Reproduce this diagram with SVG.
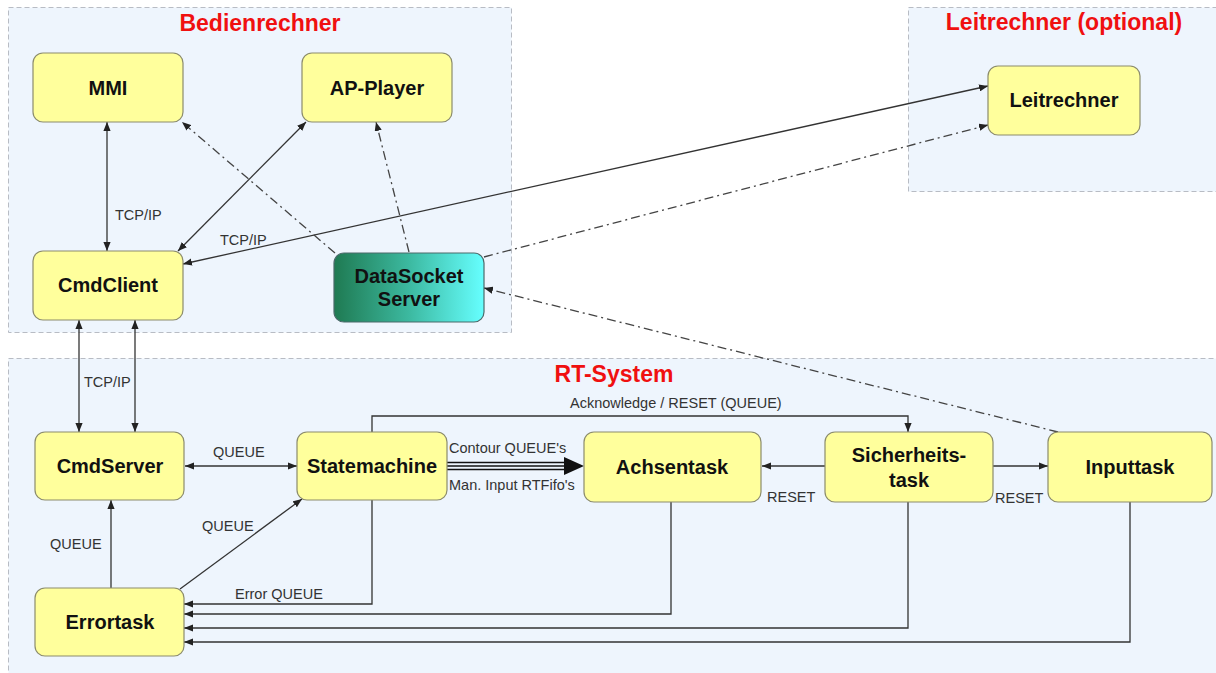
<svg xmlns="http://www.w3.org/2000/svg" width="1216" height="673" viewBox="0 0 1216 673">
<defs>
<marker id="arr" viewBox="0 0 10 8" refX="10" refY="4" markerWidth="9" markerHeight="7.5" markerUnits="userSpaceOnUse" orient="auto-start-reverse">
<path d="M0,0 L10,4 L0,8 z" fill="#222"/>
</marker>
<linearGradient id="ds" x1="0" y1="0" x2="1" y2="0">
<stop offset="0" stop-color="#1f7a52"/>
<stop offset="0.5" stop-color="#3cb9a0"/>
<stop offset="1" stop-color="#66ffff"/>
</linearGradient>
<style>
.grp{fill:#eef5fd;stroke:#b8bcc4;stroke-width:1;stroke-dasharray:5 3}
.title{font-family:"Liberation Sans",Arial,sans-serif;font-weight:bold;font-size:23px;fill:#f01010;text-anchor:middle}
.node{fill:#ffff9c;stroke:#8c8c6c;stroke-width:1.2}
.nt{font-family:"Liberation Sans",Arial,sans-serif;font-weight:bold;font-size:20px;fill:#111;text-anchor:middle}
.lbl{font-family:"Liberation Sans",Arial,sans-serif;font-size:14.5px;fill:#333}
.c{fill:none;stroke:#333;stroke-width:1.3}
.dd{fill:none;stroke:#444;stroke-width:1.3;stroke-dasharray:9 4 2 4}
</style>
</defs>
<rect width="1216" height="673" fill="#ffffff"/>
<g id="group-bedienrechner">
<rect class="grp" x="8.5" y="7.5" width="503" height="325"/>
<text class="title" x="260" y="31">Bedienrechner</text>
</g>
<g id="group-leitrechner">
<rect class="grp" x="908.5" y="7.5" width="312" height="184"/>
<text class="title" x="1064" y="30">Leitrechner (optional)</text>
</g>
<g id="group-rtsystem">
<rect class="grp" x="8.5" y="358.5" width="1212" height="320"/>
<text class="title" x="614" y="382">RT-System</text>
</g>
<g id="connectors">
<line class="c" x1="107" y1="122" x2="107" y2="251" marker-start="url(#arr)" marker-end="url(#arr)"/>
<line class="c" x1="306" y1="122" x2="178" y2="251" marker-start="url(#arr)" marker-end="url(#arr)"/>
<line class="c" x1="183" y1="264" x2="988" y2="86" marker-start="url(#arr)" marker-end="url(#arr)"/>
<line class="dd" x1="335" y1="253" x2="182" y2="122" marker-end="url(#arr)"/>
<line class="dd" x1="409" y1="252" x2="376" y2="122" marker-end="url(#arr)"/>
<line class="dd" x1="484" y1="257" x2="988" y2="125" marker-end="url(#arr)"/>
<line class="dd" x1="1058" y1="432" x2="484" y2="288" marker-end="url(#arr)"/>
<line class="c" x1="79" y1="320" x2="79" y2="432" marker-start="url(#arr)" marker-end="url(#arr)"/>
<line class="c" x1="135" y1="320" x2="135" y2="432" marker-start="url(#arr)" marker-end="url(#arr)"/>
<line class="c" x1="185" y1="466" x2="297" y2="466" marker-start="url(#arr)" marker-end="url(#arr)"/>
<line class="c" x1="111" y1="588" x2="111" y2="500" marker-end="url(#arr)"/>
<line class="c" x1="180" y1="589" x2="302" y2="499" marker-end="url(#arr)"/>
<polyline class="c" points="372,500 372,604 184,604" marker-end="url(#arr)"/>
<polyline class="c" points="671,502 671,614 184,614" marker-end="url(#arr)"/>
<polyline class="c" points="908,502 908,628 184,628" marker-end="url(#arr)"/>
<polyline class="c" points="1130,502 1130,642 184,642" marker-end="url(#arr)"/>
<line class="c" x1="825" y1="466" x2="762" y2="466" marker-end="url(#arr)"/>
<line class="c" x1="993" y1="466" x2="1048" y2="466" marker-end="url(#arr)"/>
<polyline class="c" points="372,432 372,416 908,416 908,432" marker-end="url(#arr)"/>
<g stroke="#111" stroke-width="1.6">
<line x1="447" y1="462.5" x2="566" y2="462.5"/>
<line x1="447" y1="466" x2="566" y2="466"/>
<line x1="447" y1="469.5" x2="566" y2="469.5"/>
</g>
<polygon points="564,457 584,466 564,475" fill="#111"/>
<text class="lbl" x="115" y="220">TCP/IP</text>
<text class="lbl" x="220" y="245">TCP/IP</text>
<text class="lbl" x="84" y="387">TCP/IP</text>
<text class="lbl" x="213" y="457">QUEUE</text>
<text class="lbl" x="50" y="549">QUEUE</text>
<text class="lbl" x="202" y="531">QUEUE</text>
<text class="lbl" x="235" y="599">Error QUEUE</text>
<text class="lbl" x="449" y="453">Contour QUEUE's</text>
<text class="lbl" x="449" y="490">Man. Input RTFifo's</text>
<text class="lbl" x="570" y="408">Acknowledge / RESET (QUEUE)</text>
<text class="lbl" x="767" y="502">RESET</text>
<text class="lbl" x="995" y="503">RESET</text>
</g>
<g id="node-mmi">
<rect class="node" x="33" y="53" width="150" height="69" rx="10"/>
<text class="nt" x="108" y="95">MMI</text>
</g>
<g id="node-applayer">
<rect class="node" x="302" y="53" width="150" height="69" rx="10"/>
<text class="nt" x="377" y="95">AP-Player</text>
</g>
<g id="node-cmdclient">
<rect class="node" x="33" y="251" width="150" height="69" rx="10"/>
<text class="nt" x="108" y="292">CmdClient</text>
</g>
<g id="node-datasocket">
<rect x="334" y="253" width="150" height="69" rx="10" fill="url(#ds)" stroke="#4a6a6a" stroke-width="1.2"/>
<text class="nt" x="409" y="283">DataSocket</text>
<text class="nt" x="409" y="306">Server</text>
</g>
<g id="node-leitrechner">
<rect class="node" x="988" y="66" width="152" height="69" rx="10"/>
<text class="nt" x="1064" y="107">Leitrechner</text>
</g>
<g id="node-cmdserver">
<rect class="node" x="35" y="432" width="149" height="68" rx="10"/>
<text class="nt" x="110" y="473">CmdServer</text>
</g>
<g id="node-statemachine">
<rect class="node" x="297" y="432" width="150" height="68" rx="10"/>
<text class="nt" x="372" y="473">Statemachine</text>
</g>
<g id="node-errortask">
<rect class="node" x="35" y="588" width="149" height="68" rx="10"/>
<text class="nt" x="110" y="629">Errortask</text>
</g>
<g id="node-achsentask">
<rect class="node" x="584" y="432" width="177" height="70" rx="10"/>
<text class="nt" x="672" y="474">Achsentask</text>
</g>
<g id="node-sicherheitstask">
<rect class="node" x="825" y="432" width="168" height="70" rx="10"/>
<text class="nt" x="909" y="462">Sicherheits-</text>
<text class="nt" x="909" y="487">task</text>
</g>
<g id="node-inputtask">
<rect class="node" x="1048" y="432" width="164" height="70" rx="10"/>
<text class="nt" x="1130" y="474">Inputtask</text>
</g>
</svg>
